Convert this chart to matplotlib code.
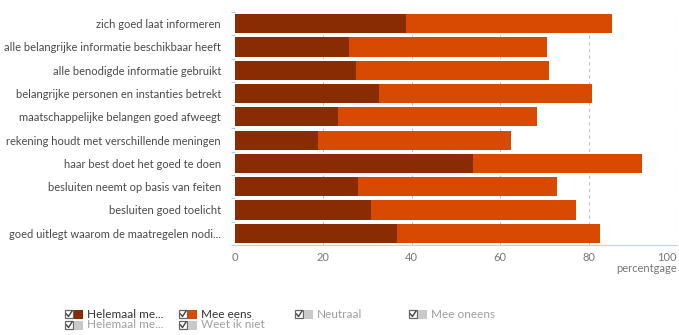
import numpy as np
import matplotlib.pyplot as plt
from matplotlib.patches import Rectangle
from matplotlib.lines import Line2D

categories = [
    "zich goed laat informeren",
    "alle belangrijke informatie beschikbaar heeft",
    "alle benodigde informatie gebruikt",
    "belangrijke personen en instanties betrekt",
    "maatschappelijke belangen goed afweegt",
    "rekening houdt met verschillende meningen",
    "haar best doet het goed te doen",
    "besluiten neemt op basis van feiten",
    "besluiten goed toelicht",
    "goed uitlegt waarom de maatregelen nodi...",
]
helemaal_mee_eens = [38.8, 25.8, 27.4, 32.7, 23.4, 18.7, 53.9, 27.9, 30.7, 36.6]
mee_eens = [46.6, 44.9, 43.7, 48.0, 45.0, 43.8, 38.3, 45.0, 46.5, 46.0]

legend_labels = ["Helemaal me...", "Mee eens", "Neutraal", "Mee oneens",
                 "Helemaal me...", "Weet ik niet"]
legend_active = [True, True, False, False, False, False]

DARK = "#8a2c03"
ORANGE = "#d84a02"
INACTIVE = "#c9c9c9"

plt.rcParams['font.family'] = ['Lato', 'DejaVu Sans']

W, H = 679, 335
fig = plt.figure(figsize=(W / 100, H / 100), dpi=100)
ax = fig.add_axes([0.346, 0.269, 0.651, 0.695])

y = np.arange(len(categories))
ax.barh(y, helemaal_mee_eens, height=0.82, color=DARK, zorder=3)
ax.barh(y, mee_eens, left=helemaal_mee_eens, height=0.82, color=ORANGE, zorder=3)

ax.set_xlim(0, 100)
ax.set_ylim(len(categories) - 0.5, -0.5)
ax.set_yticks(y)
ax.set_yticklabels(categories, fontsize=8, color="#4a4a4a")
ax.tick_params(axis="y", length=0, pad=10)
ax.set_yticks(np.arange(-0.5, len(categories), 1), minor=True)
ax.tick_params(axis="y", which="minor", length=3, color="#b8cadb", width=0.8)

ax.set_xticks([0, 20, 40, 60, 80, 100])
ax.tick_params(axis="x", length=0, pad=5, labelsize=8, labelcolor="#777777")
ax.get_xticklabels()[-1].set_horizontalalignment("right")
for v in [20, 40, 60, 80]:
    ax.axvline(v, color="#c4c4c4", ls=(0, (3, 3)), lw=0.8, zorder=1)
ax.axvline(100, color="#a9c4dc", ls=(0, (3, 3)), lw=0.8, zorder=1)

for s in ["top", "right", "left"]:
    ax.spines[s].set_visible(False)
ax.spines["bottom"].set_color("#c5d3e0")

fig.text(0.997, (H - 269) / H, "percentgage", ha="right", va="center",
         fontsize=8, color="#777777")

# legend drawn by hand (checkbox + colour swatch + label), pixel units
col_x = [65, 179, 295, 409]
row_y = [314, 325]
for i, (lab, act) in enumerate(zip(legend_labels, legend_active)):
    cx = col_x[i % 4]
    cy = H - row_y[i // 4]
    # checkbox
    fig.patches.append(Rectangle((cx, cy - 4), 8, 8, transform=None,
                                 facecolor="white", edgecolor="#666666", lw=0.9))
    fig.lines.append(Line2D([cx + 1.5, cx + 3.5, cx + 7], [cy, cy - 2.5, cy + 3],
                            transform=None, color="#444444", lw=1.0))
    swatch = [DARK, ORANGE][i] if act else INACTIVE
    fig.patches.append(Rectangle((cx + 9, cy - 4.5), 9, 9, transform=None,
                                 facecolor=swatch, edgecolor="none"))
    fig.text((cx + 22) / W, cy / H, lab, fontsize=8.5, va="center", ha="left",
             color="#333333" if act else "#a0a0a0")

fig.savefig("out.png", dpi=100)
